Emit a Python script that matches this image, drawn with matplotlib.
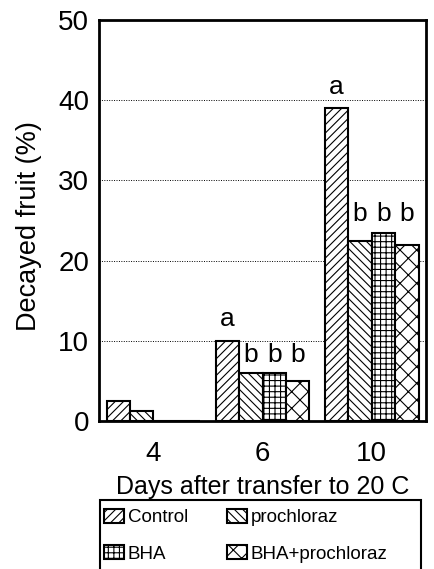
import matplotlib
matplotlib.use("Agg")
import matplotlib.pyplot as plt
import matplotlib.patches as mpatches
import numpy as np

plt.rcParams['font.family'] = ['Liberation Sans', 'DejaVu Sans']
plt.rcParams['hatch.linewidth'] = 0.8

days = ['4', '6', '10']
treatments = ['Control', 'prochloraz', 'BHA', 'BHA+prochloraz']
control = [2.5, 10.0, 39.0]
prochloraz = [1.2, 6.0, 22.5]
bha = [0.0, 6.0, 23.5]
bha_prochloraz = [0.0, 5.0, 22.0]
letters_control = ['', 'a', 'a']
letters_treat = ['', 'b', 'b']

series = [control, prochloraz, bha, bha_prochloraz]
hatches = ['////', '\\\\\\\\', '+++', 'xx']

fig = plt.figure(figsize=(4.34, 5.69), dpi=100)
ax = fig.add_axes([0.228, 0.260, 0.754, 0.705])

x = np.arange(len(days))
w = 0.215
offsets = (np.arange(4) - 1.5) * w
for i, (vals, h) in enumerate(zip(series, hatches)):
    ax.bar(x + offsets[i], vals, width=w, facecolor='white', edgecolor='black',
           hatch=h, linewidth=1.5, zorder=3, label=treatments[i])

# significance letters
for gi in range(len(days)):
    if letters_control[gi]:
        ax.text(x[gi] + offsets[0], control[gi] + 1.8, letters_control[gi],
                ha='center', va='baseline', fontsize=19, zorder=4)
    if letters_treat[gi]:
        top = max(prochloraz[gi], bha[gi], bha_prochloraz[gi])
        for k in range(1, 4):
            ax.text(x[gi] + offsets[k], top + 1.4, letters_treat[gi],
                    ha='center', va='baseline', fontsize=19, zorder=4)

ax.set_xlim(-0.5, 2.5)
ax.set_ylim(0, 50)
ax.set_yticks([0, 10, 20, 30, 40, 50])
ax.set_xticks(x)
ax.set_xticklabels(days)
ax.tick_params(axis='both', length=0, labelsize=20)
ax.tick_params(axis='y', pad=7)
ax.tick_params(axis='x', pad=14)
for yv in [10, 20, 30, 40]:
    ax.axhline(yv, color='black', linestyle=(0, (1, 1.5)), linewidth=0.7, zorder=1)
for sp in ax.spines.values():
    sp.set_linewidth(2.0)

ax.set_ylabel('Decayed fruit (%)', fontsize=19.5, labelpad=9)
ax.yaxis.set_label_coords(-0.175, 0.485)
ax.set_xlabel('Days after transfer to 20 C', fontsize=18, labelpad=6)

# legend box
rect = mpatches.Rectangle((0.230, -0.05), 0.740, 0.171, transform=fig.transFigure,
                          facecolor='white', edgecolor='black', linewidth=1.5,
                          clip_on=False)
fig.patches.append(rect)
handles, labels = ax.get_legend_handles_labels()
order = [0, 2, 1, 3]
leg = fig.legend([handles[i] for i in order], [labels[i] for i in order],
                 ncol=2, loc='upper left', bbox_to_anchor=(0.240, 0.106),
                 frameon=False, fontsize=13.5, handlelength=1.05, handleheight=0.8,
                 handletextpad=0.2, columnspacing=2.1, labelspacing=1.0,
                 borderaxespad=0.0, borderpad=0.0)

fig.savefig('out.png', dpi=100)
